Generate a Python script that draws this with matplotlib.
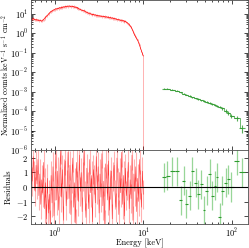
import numpy as np
import matplotlib
matplotlib.use("Agg")
import matplotlib.pyplot as plt

plt.rcParams['font.family'] = 'serif'
plt.rcParams['font.serif'] = ['cmr10']
plt.rcParams['mathtext.fontset'] = 'cm'
plt.rcParams['axes.formatter.use_mathtext'] = True
plt.rcParams['font.size'] = 6

# red (low energy) spectrum, 120 channels between 0.54 and 9.95 keV
red_energy = np.geomspace(0.54, 9.95, 120)
red_flux = [5.6, 5.2, 5.9, 5.4, 5.0, 5.3, 4.8, 5.1, 4.6, 4.9,
            4.6, 4.3, 4.9, 5.2, 6.0, 6.9, 7.8, 8.4, 9.8, 10.9,
            12.4, 13.8, 14.2, 15.9, 16.3, 17.5, 18.9, 18.2, 20.1, 19.4,
            21.5, 20.3, 22.8, 21.9, 23.7, 22.6, 24.8, 23.5, 25.9, 24.4,
            26.5, 25.1, 24.2, 26.0, 23.8, 24.6, 22.4, 23.1, 20.8, 21.6,
            19.3, 18.1, 17.6, 16.2, 15.7, 14.9, 15.3, 13.6, 13.0, 12.2,
            11.8, 10.9, 11.2, 10.1, 9.9, 9.3, 9.8, 8.9, 9.2, 8.5,
            8.6, 8.0, 8.4, 7.7, 8.1, 7.4, 7.9, 7.2, 7.6, 6.9,
            7.3, 6.8, 7.0, 6.4, 6.7, 6.1, 6.5, 5.9, 6.0, 5.6,
            5.8, 5.2, 5.4, 4.9, 5.1, 4.7, 4.9, 4.4, 4.6, 4.2,
            4.3, 3.8, 3.6, 3.2, 2.9, 2.5, 2.2, 1.7, 1.35, 1.0,
            0.80, 0.66, 0.52, 0.45, 0.34, 0.25, 0.18, 0.13, 0.095, 0.07]
red_rel_err = 0.13
red_resid = [1.2, 0.4, 2.1, 0.8, -0.3, 1.5, 0.2, 1.9, -0.6, 0.9,
             -1.2, 0.5, -0.4, 1.7, -1.5, 0.3, -2.2, 0.6, -1.8, -0.5,
             -2.6, 0.8, -1.1, 1.4, -2.0, 0.1, 2.3, -0.9, 1.1, -1.6,
             0.4, 2.6, -0.7, 1.2, -2.3, 0.9, 1.8, -1.3, 0.2, 2.4,
             -0.8, 1.5, -1.9, 0.6, 2.0, -1.4, 0.3, -2.5, 1.7, 0.1,
             -1.0, 2.2, -0.3, 1.0, -1.7, 0.7, 2.5, -0.6, -2.1, 1.3,
             0.0, -1.5, 1.9, -0.4, 0.8, -2.4, 1.2, 0.5, -1.1, 2.1,
             -0.2, 1.4, -1.8, 0.9, -0.7, 2.3, -1.3, 0.4, -2.6, 1.6,
             0.6, -0.9, 1.8, -1.6, 0.2, 1.1, -2.2, 0.7, 1.5, -0.5,
             -1.4, 2.0, 0.3, -1.9, 1.0, -0.4, 2.4, -1.2, 0.8, -2.0,
             1.3, -0.6, 0.1, 1.7, -1.5, 0.5, -0.8, 2.2, -2.3, 0.9,
             -0.3, 1.4, -1.7, 0.6, -1.0, 1.9, 0.2, -1.4, 1.1, -0.5]

# green (high energy) spectrum
green_energy = [17.0, 18.6, 21.1, 24.1, 26.4, 28.7, 30.4, 33.2, 35.5, 38.8,
                41.3, 44.9, 48.2, 51.8, 56.5, 60.0, 63.9, 68.4, 72.6, 77.9,
                85.1, 90.4, 98.6, 114.0, 130.0]
green_flux = [1.45e-3, 1.4e-3, 1.3e-3, 1.1e-3, 9.5e-4, 8e-4, 7e-4, 6e-4, 5.2e-4, 4.6e-4,
              4.1e-4, 3.6e-4, 3.2e-4, 2.9e-4, 2.6e-4, 2.35e-4, 2.15e-4, 1.9e-4, 1.65e-4, 1.4e-4,
              1.05e-4, 8e-5, 5.8e-5, 4.5e-5, 1.4e-5]
green_rel_err = [0.05, 0.05, 0.06, 0.06, 0.07, 0.07, 0.08, 0.08, 0.09, 0.09,
                 0.1, 0.1, 0.11, 0.12, 0.12, 0.13, 0.14, 0.15, 0.16, 0.17,
                 0.19, 0.21, 0.24, 0.28, 0.45]
green_resid = [0.66, 0.77, 1.1, 1.1, -0.93, 0.43, -1.16, -0.6, 1.1, 0.3,
               -0.5, 0.2, -1.6, -0.25, 0.9, -0.6, 0.1, 0.66, -2.1, -0.25,
               0.3, 0.55, 0.0, 1.8, 1.0]

red_flux = np.array(red_flux)
red_err_hi = red_flux * red_rel_err
red_err_lo = red_flux * red_rel_err
red_err_lo[-1] = red_flux[-1] - 1e-9   # last channel consistent with zero

ge = np.array(green_energy)
edges = np.sqrt(ge[1:] * ge[:-1])
edges = np.concatenate([[ge[0] ** 2 / edges[0]], edges, [ge[-1] ** 2 / edges[-1]]])
gx_err = [ge - edges[:-1], edges[1:] - ge]
gf = np.array(green_flux)
gy_err = gf * np.array(green_rel_err)

fig = plt.figure(figsize=(2.49, 2.48), dpi=100)
ax1 = fig.add_axes([31 / 249, 98 / 248, 217 / 249, 150 / 248])
ax2 = fig.add_axes([31 / 249, 24 / 248, 217 / 249, 74 / 248], sharex=ax1)

red = '#ff0000'
green = '#2e9a2e'

ax1.errorbar(red_energy, red_flux, yerr=[red_err_lo, red_err_hi], fmt='none',
             ecolor=red, elinewidth=0.7, alpha=0.3)
ax1.plot(red_energy, red_flux, color=red, lw=0.5)
ax1.errorbar(ge, gf, xerr=gx_err, yerr=gy_err, fmt='none', ecolor=green,
             elinewidth=0.8, alpha=0.8)
ax1.plot(ge, gf, color=green, lw=0.6, drawstyle='steps-mid', alpha=0.8)

ax1.set_xscale('log')
ax1.set_yscale('log')
ax1.set_xlim(0.535, 152)
ax1.set_ylim(1e-6, 53)
ax1.set_ylabel(r'Normalized counts keV$^{-1}$ s$^{-1}$ cm$^{-2}$', fontsize=5.6)
ax1.yaxis.set_label_coords(-0.088, 0.5)
ax1.tick_params(labelbottom=False)

ax2.errorbar(red_energy, red_resid, yerr=1.0, fmt='none', ecolor=red,
             elinewidth=0.8, alpha=0.3)
ax2.plot(red_energy, red_resid, color=red, lw=0.4, alpha=0.7)
ax2.errorbar(ge, green_resid, yerr=1.0, fmt='none', ecolor='#7fcc7f',
             elinewidth=0.9, alpha=0.8)
ax2.errorbar(ge, green_resid, xerr=gx_err, fmt='none', ecolor=green,
             elinewidth=0.8)
ax2.axhline(0, color='black', lw=0.8)
ax2.set_ylim(-2.55, 2.55)
ax2.set_yticks([-2, -1, 0, 1, 2])
ax2.set_xlabel('Energy [keV]', labelpad=-1)
ax2.set_ylabel('Residuals')
ax2.yaxis.set_label_coords(-0.085, 0.5)

for ax in (ax1, ax2):
    ax.tick_params(which='both', direction='in', top=True, right=True,
                   width=0.5, labelsize=6, pad=2)
    ax.tick_params(which='major', length=3)
    ax.tick_params(which='minor', length=1.5)
    for s in ax.spines.values():
        s.set_linewidth(0.6)
        s.set_color('0.3')

fig.savefig('out.png', dpi=100)
